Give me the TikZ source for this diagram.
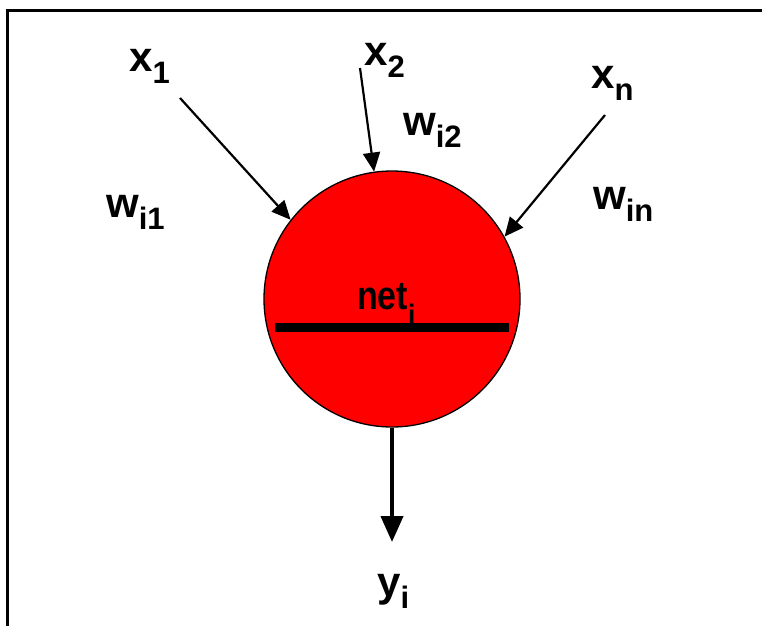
\documentclass[tikz,border=0pt]{standalone}
\usepackage{fontspec}
\setmainfont{Liberation Sans}
\usetikzlibrary{arrows.meta}
\newcommand{\lowsub}[2][12pt]{\raisebox{-#1}{\fontsize{31}{31}\selectfont #2}}

\begin{document}
\begin{tikzpicture}[x=1pt, y=-1pt,
  neuron/.style={circle, draw, line width=1.3pt, fill=red, minimum size=256pt, inner sep=0pt},
  lbl/.style={font=\fontsize{42}{42}\selectfont\bfseries, inner sep=0pt, anchor=base west},
  input/.style={line width=2.2pt, -{Triangle[length=19pt,width=17pt]}},
  output/.style={line width=4pt, -{Triangle[length=26pt,width=22pt]}},
  bar/.style={line width=9pt}
]
  \useasboundingbox (0,0) rectangle (762,625);
  \clip (0,0) rectangle (762,625);
  \draw[line width=3pt] (7,10) rectangle (800,700);

  \node[neuron] (n) at (392,299) {};

  % inputs and weights
  \node[lbl] (x1) at (129,71) {x\lowsub{1}};
  \node[lbl] (x2) at (364,65) {x\lowsub{2}};
  \node[lbl] (xn) at (591,88) {x\lowsub{n}};
  \node[lbl] (w1) at (106,217) {w\lowsub{i1}};
  \node[lbl] (w2) at (403,135) {w\lowsub{i2}};
  \node[lbl] (wn) at (593,209) {w\lowsub{in}};
  \node[lbl] (y) at (377,596) {y\lowsub{i}};
  \node[lbl, font=\fontsize{40}{40}\selectfont\bfseries] (net) at (357,309)
    {\scalebox{0.85}[1]{net\lowsub[17pt]{i}}};

  \coordinate (s1) at (180,98);
  \coordinate (s2) at (360,68);
  \coordinate (sn) at (605,115);
  \coordinate (out) at (392,542);
  \draw[input] (s1) -- (n.142);
  \draw[input] (s2) -- (n.98);
  \draw[input] (sn) -- (n.29);
  \draw[output] (n.south) -- (out);

  \path (n.center) ++(-117,28) coordinate (barL) ++(234,0) coordinate (barR);
  \draw[bar] (barL) -- (barR);
\end{tikzpicture}
\end{document}
